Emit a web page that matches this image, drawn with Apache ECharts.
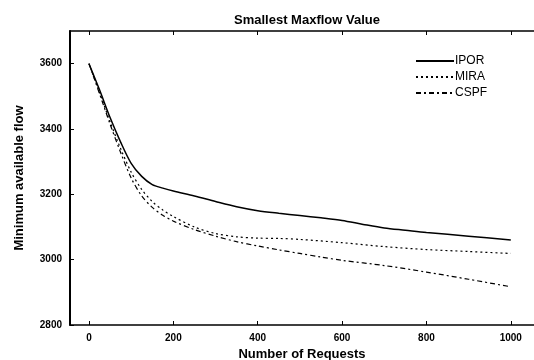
<!DOCTYPE html>
<html>
<head>
<meta charset="utf-8">
<script src="https://cdn.jsdelivr.net/npm/echarts@6/dist/echarts.min.js"></script>
<style>
  html, body { margin: 0; padding: 0; background: #fff; }
  #chart { width: 534px; height: 360px; }
</style>
</head>
<body>
<div id="chart"></div>
<script>
const xTicks = [0, 200, 400, 600, 800, 1000]
const yTicks = [2800, 3000, 3200, 3400, 3600]

const ipor = [[0, 3600], [25, 3520], [50, 3435], [75, 3360], [100, 3295], [125, 3255], [150, 3230],
  [175, 3219], [200, 3210], [250, 3195], [300, 3178], [350, 3162], [400, 3150], [450, 3142], [500, 3135],
  [550, 3128], [600, 3120], [650, 3108], [700, 3097], [750, 3090], [800, 3083], [900, 3072], [1000, 3060]]
const mira = [[0, 3600], [25, 3512], [50, 3422], [75, 3340], [100, 3268], [125, 3215], [150, 3178],
  [175, 3152], [200, 3132], [250, 3100], [300, 3080], [350, 3070], [400, 3066], [450, 3065], [500, 3062],
  [600, 3052], [700, 3040], [800, 3031], [900, 3025], [1000, 3019]]
const cspf = [[0, 3600], [25, 3508], [50, 3415], [75, 3328], [100, 3250], [125, 3195], [150, 3160],
  [175, 3136], [200, 3118], [250, 3092], [300, 3072], [350, 3055], [400, 3042], [450, 3030], [500, 3019],
  [550, 3008], [600, 2998], [700, 2982], [800, 2962], [900, 2940], [1000, 2917]]

const chart = echarts.init(document.getElementById('chart'))
const font = 'Liberation Sans, Arial, sans-serif'
const lineStyleAxis = { color: '#000', width: 1.5 }
const plain = v => String(v)

chart.setOption({
  animation: false,
  backgroundColor: '#fff',
  title: { text: 'Smallest Maxflow Value', left: 302, textAlign: 'center', top: 9,
    textStyle: { fontFamily: font, fontSize: 13, fontWeight: 'bold', color: '#000' } },
  legend: { orient: 'vertical', left: 410, top: 50, itemWidth: 38, itemHeight: 12, itemGap: 4,
    itemStyle: { opacity: 0 },
    textStyle: { fontFamily: font, fontSize: 12, color: '#000', padding: [0, 0, 0, -4] },
    data: ['IPOR', 'MIRA', 'CSPF'] },
  grid: { left: 70, right: 0, top: 31, bottom: 35, outerBoundsMode: 'none' },
  xAxis: [
    { type: 'value', min: -45, max: 1055, name: 'Number of Requests', nameLocation: 'middle', nameGap: 20,
      nameTextStyle: { fontFamily: font, fontSize: 13, fontWeight: 'bold', color: '#000', verticalAlign: 'top' },
      axisLine: { onZero: false, lineStyle: lineStyleAxis },
      axisTick: { inside: true, length: 4, customValues: xTicks, lineStyle: { color: '#000' } },
      axisLabel: { customValues: xTicks, formatter: plain, fontFamily: font, fontSize: 10, fontWeight: 'bold', color: '#000', margin: 8 },
      splitLine: { show: false } },
    { type: 'value', min: -45, max: 1055, position: 'top',
      axisLine: { show: true, onZero: false, lineStyle: lineStyleAxis },
      axisTick: { inside: true, length: 4, customValues: xTicks, lineStyle: { color: '#000' } },
      axisLabel: { show: false }, splitLine: { show: false } }
  ],
  yAxis: { type: 'value', min: 2800, max: 3700, name: 'Minimum available flow', nameLocation: 'middle', nameGap: 44,
    nameTextStyle: { fontFamily: font, fontSize: 13, fontWeight: 'bold', color: '#000' },
    axisLine: { show: true, onZero: false, lineStyle: { color: '#000', width: 2 } },
    axisTick: { show: true, inside: true, length: 4, customValues: yTicks, lineStyle: { color: '#000' } },
    axisLabel: { customValues: yTicks, formatter: plain, fontFamily: font, fontSize: 10, fontWeight: 'bold', color: '#000', margin: 8 },
    splitLine: { show: false } },
  series: [
    { name: 'IPOR', type: 'line', data: ipor, smooth: 0.3, symbol: 'none', color: '#000',
      lineStyle: { color: '#000', width: 1.5 } },
    { name: 'MIRA', type: 'line', data: mira, smooth: 0.3, symbol: 'none', color: '#000',
      lineStyle: { color: '#000', width: 1.2, type: [2, 3] } },
    { name: 'CSPF', type: 'line', data: cspf, smooth: 0.3, symbol: 'none', color: '#000',
      lineStyle: { color: '#000', width: 1.2, type: [5, 3, 2, 3] } }
  ]
})
</script>
</body>
</html>
